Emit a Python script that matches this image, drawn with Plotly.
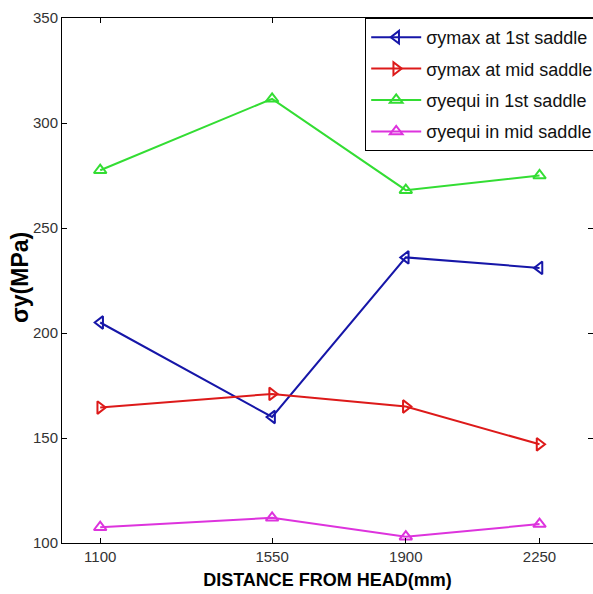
import plotly.graph_objects as go

distance = [1100, 1550, 1900, 2250]
symax_1st = [205, 160, 236, 231]
symax_mid = [164.5, 171, 165, 147]
syequi_1st = [277.5, 311.5, 268, 275]
syequi_mid = [107.5, 112, 103, 109]

names = ["σymax at 1st saddle", "σymax at mid saddle", "σyequi in 1st saddle", "σyequi in mid saddle"]
colors = ["#1616a8", "#dd1a1a", "#33dd33", "#dd33dd"]
symbols = ["triangle-left-open", "triangle-right-open", "triangle-up-open", "triangle-up-open"]
series = [symax_1st, symax_mid, syequi_1st, syequi_mid]

fig = go.Figure()
for i, (n, c, s, ys) in enumerate(zip(names, colors, symbols, series)):
    fig.add_trace(go.Scatter(
        x=distance, y=ys, name=n, mode="lines+markers",
        line=dict(color=c, width=2),
        marker=dict(symbol=s, size=11, color=c, line=dict(color=c, width=2)),
        legendgroup=f"g{i}",
    ))

tickfont = dict(family="Liberation Sans Narrow, Arial Narrow, Liberation Sans", size=15, color="#333333")
fig.update_layout(
    width=593, height=594,
    margin=dict(l=62, r=0, t=18, b=51, autoexpand=False),
    paper_bgcolor="white", plot_bgcolor="white",
    showlegend=True,
    legend=dict(x=0.571, y=1, xanchor="left", yanchor="top",
                bgcolor="white", bordercolor="black", borderwidth=1,
                font=dict(family="Liberation Sans", size=18, color="#111111"),
                itemwidth=50, tracegroupgap=5),
    xaxis=dict(range=[1000, 2390], tickvals=distance, ticktext=[str(d) for d in distance],
               automargin=True,
               showgrid=False, zeroline=False, showline=True, linecolor="black", linewidth=1,
               mirror="ticks", ticks="inside", ticklen=5, tickcolor="black", tickfont=tickfont,
               title=dict(text="DISTANCE FROM HEAD(mm)", standoff=9,
                          font=dict(family="Liberation Sans", size=18, color="black", weight="bold"))),
    yaxis=dict(range=[100, 350], tickvals=[100, 150, 200, 250, 300, 350],
               automargin=True,
               showgrid=False, zeroline=False, showline=True, linecolor="black", linewidth=1,
               mirror="ticks", ticks="inside", ticklen=5, tickcolor="black", tickfont=tickfont),
    annotations=[dict(text="σy(MPa)", xref="paper", yref="paper", x=-0.079, y=0.505,
                      xanchor="center", yanchor="middle", textangle=-90, showarrow=False,
                      font=dict(family="Liberation Sans", size=23, color="black", weight="bold"))],
)
fig.write_html("out.html", config={"displayModeBar": False},
               post_script="document.body.style.margin='0';document.body.style.overflow='hidden';")
